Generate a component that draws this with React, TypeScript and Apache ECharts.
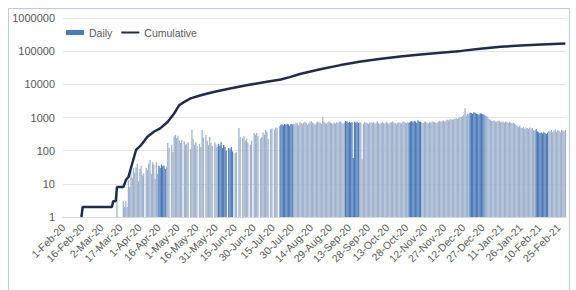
import React, { useEffect, useRef } from "react";
import * as echarts from "echarts";

// Daily new cases, by month (null = no cases that day)
const feb20 = [null, null, null, null, null, null, null, null, null, null, null, null, null, null, 1, null, null, null, null, null, null, null, null, null, null, null, null, null, null];
const mar20 = [null, null, null, null, null, null, null, null, null, null, 1, null, 1, 5, null, null, null, null, 3, 2, 3, 2, 13, 8, 25, 15, 30, 22, 31, 40, 12];
const apr20 = [28, 35, 18, 21, null, 30, 26, 40, 52, 20, 45, 38, 14, 45, 20, 35, 30, 38, 34, 36, 28, 33, 170, 120, null, 150, 90, 270, 300, 240];
const may20 = [280, 200, 170, 210, null, 190, 150, 160, 180, null, 110, 420, 220, 150, 180, 140, null, 160, 130, 420, 250, null, 300, 200, 150, 260, 170, 140, null, 180, 150];
const jun20 = [130, 160, 140, 180, 120, 150, 130, 100, null, 120, 110, 130, 95, null, 85, 90, null, 480, 260, null, 240, 270, 200, 230, 180, null, 150, 200, null, 340];
const jul20 = [300, 340, 280, null, 230, 260, 350, 300, 420, 380, 230, null, 450, 470, null, 430, 500, 480, null, 550, 600, 620, 580, 640, 600, 650, 620, 560, 640, 610, 650];
const aug20 = [620, 700, 660, 580, 720, 680, 640, 700, 750, 690, 610, 660, 720, 780, 700, 650, 600, 700, 760, 720, 680, 640, 1000, 740, 690, 650, 720, 760, 700, 680, 640];
const sep20 = [700, 660, 720, 680, 740, 760, 700, 650, 720, 780, 760, 700, 740, 690, 720, 60, 750, 700, 740, 680, 710, 690, 55, 650, 720, 700, 680, 640, 700, 720];
const oct20 = [690, 720, 650, 700, 760, 680, 640, 700, 720, 680, 660, 740, 700, 650, 690, 720, 760, 700, 680, 640, 700, 720, 690, 660, 730, 760, 700, 680, 720, 690, 740];
const nov20 = [780, 720, 800, 760, 700, 820, 760, 740, 700, 680, 720, 760, 700, 660, 720, 690, 740, 760, 720, 700, 680, 760, 800, 740, 780, 820, 760, 800, 850, 820];
const dec20 = [860, 900, 840, 880, 920, 960, 900, 980, 1000, 1050, 1100, 1200, 1900, 1150, 1300, 1250, 1400, 1350, 1300, 1450, 1380, 1300, 1250, 1200, 1350, 1300, 1250, 1200, 1150, 1100, 1050];
const jan21 = [900, 850, 800, 780, 820, 760, 740, 800, 780, 720, 760, 740, 700, 760, 720, 680, 740, 700, 660, 700, 640, 600, 560, 520, 560, 500, 480, 520, 460, 500, 480];
const feb21 = [460, 500, 440, 480, 420, 400, 450, 380, 360, 340, 350, 330, 360, 340, 320, 350, 400, 380, 420, 360, 400, 440, 380, 420, 400, 360, 420, 400];
const mar21 = [380, 420];

// Cumulative cases at read-off dates
const cumulativePoints: [string, number][] = [
  ["15-Feb-20", 1], ["16-Feb-20", 2], ["10-Mar-20", 2], ["11-Mar-20", 3], ["13-Mar-20", 3],
  ["14-Mar-20", 8], ["19-Mar-20", 8], ["20-Mar-20", 10], ["21-Mar-20", 13], ["23-Mar-20", 16],
  ["26-Mar-20", 41], ["29-Mar-20", 105], ["2-Apr-20", 147], ["7-Apr-20", 263], ["12-Apr-20", 372],
  ["17-Apr-20", 470], ["23-Apr-20", 742], ["28-Apr-20", 1320], ["2-May-20", 2350], ["6-May-20", 2960],
  ["11-May-20", 3780], ["19-May-20", 4700], ["29-May-20", 5900], ["11-Jun-20", 7500], ["25-Jun-20", 9500],
  ["10-Jul-20", 12000], ["21-Jul-20", 14000], ["28-Jul-20", 16500], ["5-Aug-20", 20500], ["21-Aug-20", 28500],
  ["6-Sep-20", 38000], ["22-Sep-20", 48500], ["8-Oct-20", 59000], ["23-Oct-20", 69000], ["8-Nov-20", 79000],
  ["24-Nov-20", 90000], ["10-Dec-20", 102000], ["25-Dec-20", 119000], ["10-Jan-21", 135000],
  ["26-Jan-21", 148000], ["11-Feb-21", 159000], ["2-Mar-21", 170000],
];

// Date spans where the daily bars appear in the darker blue
const darkRanges: [string, string][] = [
  ["16-Apr-20", "21-Apr-20"], ["2-Jun-20", "13-Jun-20"], ["21-Jul-20", "30-Jul-20"],
  ["10-Sep-20", "20-Sep-20"], ["30-Oct-20", "8-Nov-20"], ["17-Dec-20", "28-Dec-20"],
  ["7-Feb-21", "16-Feb-21"],
];

const yTicks = [1, 10, 100, 1000, 10000, 100000, 1000000];

const MONTHS = ["Jan", "Feb", "Mar", "Apr", "May", "Jun", "Jul", "Aug", "Sep", "Oct", "Nov", "Dec"];

const daily = [...feb20, ...mar20, ...apr20, ...may20, ...jun20, ...jul20, ...aug20, ...sep20, ...oct20, ...nov20, ...dec20, ...jan21, ...feb21, ...mar21];

function buildDates(n: number): string[] {
  const out: string[] = [];
  const d = new Date(Date.UTC(2020, 1, 1));
  for (let i = 0; i < n; i++) {
    out.push(`${d.getUTCDate()}-${MONTHS[d.getUTCMonth()]}-${String(d.getUTCFullYear()).slice(2)}`);
    d.setUTCDate(d.getUTCDate() + 1);
  }
  return out;
}

export default function App() {
  const ref = useRef<HTMLDivElement>(null);
  useEffect(() => {
    document.body.style.margin = "0";
    if (!ref.current) return;
    const chart = echarts.init(ref.current, undefined, { renderer: "svg" });
    const dates = buildDates(daily.length);
    const darkIdx = darkRanges.map(([a, b]) => [dates.indexOf(a), dates.indexOf(b)]);
    const isDark = (i: number) => darkIdx.some(([a, b]) => i >= a && i <= b);
    const LIGHT = "#A0B2CD";
    const DARK = "#4C7BB8";
    const barData = daily.map((v, i) =>
      v == null ? "-" : { value: v, itemStyle: { color: isDark(i) ? DARK : LIGHT } }
    );
    const lineData = cumulativePoints.map(([d, v]) => [dates.indexOf(d), v]);
    chart.setOption({
      animation: false,
      textStyle: { fontFamily: "'Liberation Sans', Arial, sans-serif" },
      graphic: [
        {
          type: "rect",
          shape: { x: 8.5, y: 8.5, width: 561, height: 300 },
          style: { fill: "none", stroke: "#B9CBE3", lineWidth: 1 },
          silent: true,
        },
      ],
      legend: {
        left: 61,
        top: 22,
        itemWidth: 18,
        itemHeight: 5,
        itemGap: 8,
        textStyle: { fontSize: 10.5, color: "#595959" },
        data: [
          { name: "Daily", icon: "rect" },
          { name: "Cumulative", itemStyle: { opacity: 0 } },
        ],
      },
      grid: { left: 63, right: 10, top: 18, bottom: 73 },
      xAxis: {
        type: "category",
        data: dates,
        boundaryGap: true,
        axisTick: { show: false },
        axisLine: { lineStyle: { color: "#D9D9D9" } },
        axisLabel: {
          interval: 14,
          rotate: 45,
          fontSize: 10.5,
          color: "#595959",
          margin: 9,
        },
      },
      yAxis: {
        type: "log",
        logBase: 10,
        min: 1,
        max: 1000000,
        axisLine: { show: false },
        axisTick: { show: false },
        splitLine: { lineStyle: { color: "#E6E6E6" } },
        axisLabel: {
          fontSize: 11,
          color: "#595959",
          margin: 8,
          formatter: (v: number) => {
            const r = yTicks.find((t) => Math.abs(t - v) / t < 1e-6);
            return String(r ?? Math.round(v));
          },
        },
      },
      series: [
        {
          name: "Daily",
          type: "bar",
          data: barData,
          barCategoryGap: "0%",
          barGap: "0%",
          itemStyle: { color: DARK },
        },
        {
          name: "Cumulative",
          type: "line",
          data: lineData,
          symbol: "none",
          lineStyle: { color: "#1F2C4A", width: 2.5 },
          itemStyle: { color: "#1F2C4A" },
        },
      ],
    });
    return () => chart.dispose();
  }, []);
  return <div ref={ref} style={{ width: 576, height: 290 }} />;
}
